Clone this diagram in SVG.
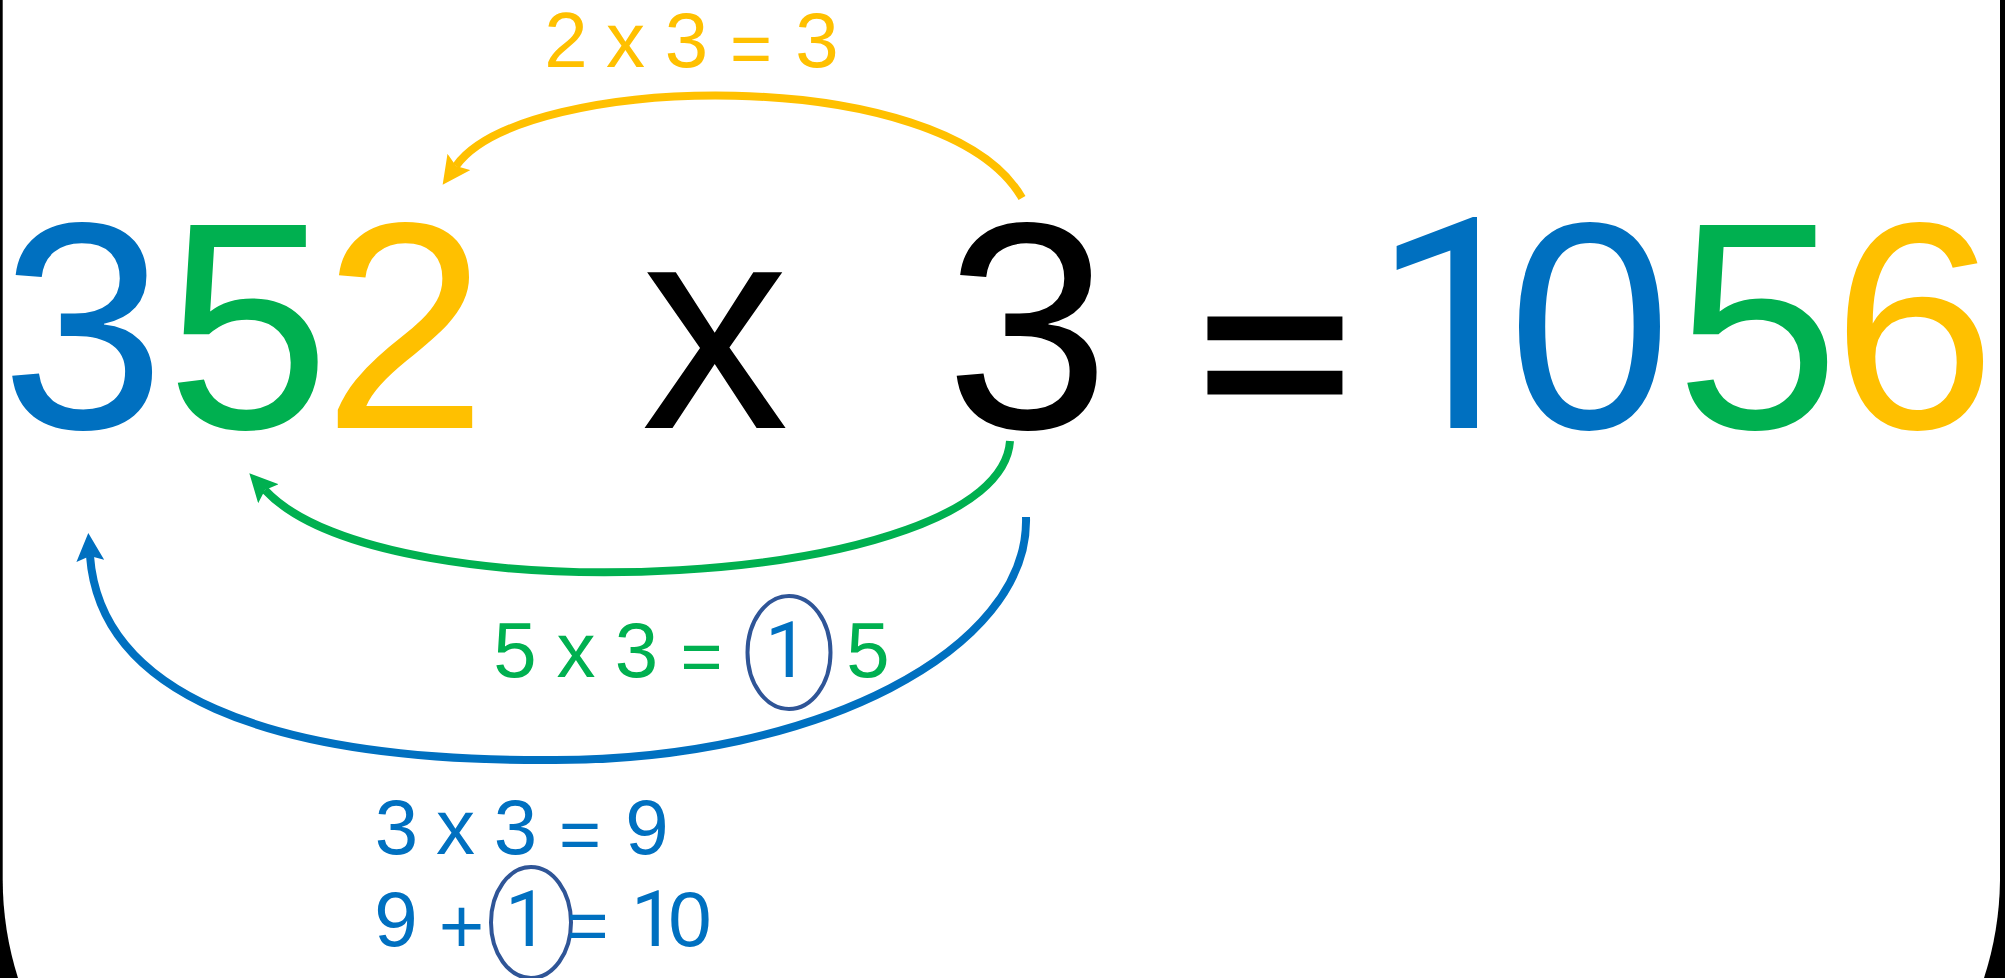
<svg xmlns="http://www.w3.org/2000/svg" width="2005" height="978" viewBox="0 0 2005 978">
<style>
text { font-family: "Liberation Sans", Arial, sans-serif; text-anchor: middle; }
.one { font-family: Roboto, "Liberation Sans", Arial, sans-serif; text-anchor: start; }
.big { font-size: 295px; }
.sm { font-size: 78px; }
.smeq { font-size: 72px; }
.blue { fill: #0070C0; }
.green { fill: #00B050; }
.yellow { fill: #FFC000; }
.black { fill: #000000; }
.arc { fill: none; stroke-width: 8; }
.ring { fill: none; stroke: #2F5597; stroke-width: 4; }
</style>
<defs>
<marker id="arrowY" markerUnits="userSpaceOnUse" markerWidth="28" markerHeight="28" viewBox="0 0 28 28" refX="5" refY="14" orient="auto"><path d="M0,0 L28,14 L0,28 L5,14 Z" fill="#FFC000"/></marker>
<marker id="arrowG" markerUnits="userSpaceOnUse" markerWidth="28" markerHeight="28" viewBox="0 0 28 28" refX="5" refY="14" orient="auto"><path d="M0,0 L28,14 L0,28 L5,14 Z" fill="#00B050"/></marker>
<marker id="arrowB" markerUnits="userSpaceOnUse" markerWidth="28" markerHeight="28" viewBox="0 0 28 28" refX="5" refY="14" orient="auto"><path d="M0,0 L28,14 L0,28 L5,14 Z" fill="#0070C0"/></marker>
</defs>
<rect x="0" y="0" width="2005" height="978" fill="#000000"/>
<path id="frame" d="M2.7,-5 L2.7,880 A328,328 0 0 0 18,978 L1984,978 A328,328 0 0 0 2000,880 L2000,-5 Z" fill="#FFFFFF"/>

<g id="multiplicand">
<text class="big" y="428"><tspan class="blue" x="83">3</tspan><tspan class="green" x="248">5</tspan><tspan class="yellow" x="405">2</tspan></text>
</g>
<g id="times"><text class="big black" x="715" y="428">x</text></g>
<g id="multiplier"><text class="big black" x="1027.5" y="428">3</text></g>
<g id="equals"><text class="black" font-size="217" stroke="#000000" stroke-width="8" transform="translate(1275,0) scale(1.19,1)" x="0" y="427">=</text></g>
<g id="product">
<text class="big blue one" x="1372" y="428" letter-spacing="-60">1</text>
<text class="big" y="428"><tspan class="blue" x="1589.5">0</tspan><tspan class="green" x="1757.5">5</tspan><tspan class="yellow" x="1914">6</tspan></text>
</g>

<g id="label-2x3">
<text class="sm yellow" y="67"><tspan x="566">2</tspan><tspan x="625.5">x</tspan><tspan x="686.5">3</tspan><tspan class="smeq" x="751" y="73">=</tspan><tspan x="817" y="67">3</tspan></text>
</g>

<g id="label-5x3">
<ellipse class="ring" cx="789" cy="652.5" rx="41.5" ry="56.5"/>
<text class="sm green" y="677"><tspan x="515">5</tspan><tspan x="576">x</tspan><tspan x="636.5">3</tspan><tspan class="smeq" x="701.5" y="681">=</tspan><tspan x="868" y="677">5</tspan></text>
<text class="sm blue one" x="765" y="677" letter-spacing="-16">1</text>
</g>

<g id="label-3x3">
<text class="sm blue" y="854"><tspan x="396.5">3</tspan><tspan x="455.5">x</tspan><tspan x="515.5">3</tspan><tspan class="smeq" x="580" y="859">=</tspan><tspan x="647" y="854">9</tspan></text>
</g>

<g id="label-9plus1">
<ellipse class="ring" cx="531" cy="922.5" rx="40" ry="55.5"/>
<text class="sm blue" y="946"><tspan x="396">9</tspan><tspan x="461.5" y="953">+</tspan><tspan class="smeq" x="587.5" y="950">=</tspan><tspan x="690" y="946">0</tspan></text>
<text class="sm blue one" x="505" y="946" letter-spacing="-16">1</text>
<text class="sm blue one" x="631" y="946" letter-spacing="-16">1</text>
</g>

<g id="connectors">
<path class="arc" stroke="#FFC000" marker-end="url(#arrowY)" d="M1022,198 C944,62 523,72 456,166"/>
<path class="arc" stroke="#00B050" marker-end="url(#arrowG)" d="M1010,441 C1000,590 386,620 265,490"/>
<path class="arc" stroke="#0070C0" marker-end="url(#arrowB)" d="M1026,517 C1030,650 816,760 555,760 C260,762 100,690 90,556"/>
</g>
</svg>
